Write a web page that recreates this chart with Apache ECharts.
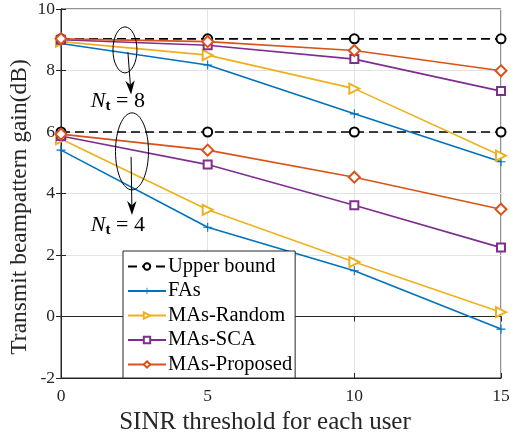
<!DOCTYPE html>
<html>
<head>
<meta charset="utf-8">
<script src="https://cdn.jsdelivr.net/npm/echarts@6/dist/echarts.min.js"></script>
<style>
  html, body { margin: 0; padding: 0; background: #fff; }
  #chart { width: 511px; height: 441px; }
</style>
</head>
<body>
<div id="chart"></div>
<script>
var sinr = [0, 5, 10, 15];

// N_t = 8
var upper8 = [9.03, 9.03, 9.03, 9.03];
var fas8 = [8.88, 8.18, 6.59, 5.03];
var random8 = [8.94, 8.5, 7.41, 5.23];
var sca8 = [9.0, 8.82, 8.37, 7.33];
var proposed8 = [9.03, 8.94, 8.65, 7.99];

// N_t = 4
var upper4 = [6.0, 6.0, 6.0, 6.0];
var fas4 = [5.41, 2.9, 1.49, -0.41];
var random4 = [5.77, 3.47, 1.77, 0.14];
var sca4 = [5.87, 4.94, 3.62, 2.24];
var proposed4 = [5.93, 5.41, 4.53, 3.49];

var names = ['Upper bound', 'FAs', 'MAs-Random', 'MAs-SCA', 'MAs-Proposed'];
var yTitle = 'Transmit beampattern gain(dB)';

var serif = '"Liberation Serif", "Times New Roman", serif';
var axisInk = '#262626';
var blue = '#0072BD', yellow = '#EDB120', purple = '#7E2F8E', orange = '#D95319';
var plus = 'path://M4.4,0h1.2v4.4h4.4v1.2h-4.4v4.4h-1.2v-4.4h-4.4v-1.2h4.4z';

function pts(vals) {
  return sinr.map(function(x, i) { return [x, vals[i]]; });
}

function makeSeries(name, vals, color, symbol, opts) {
  opts = opts || {};
  return {
    name: name,
    type: 'line',
    data: pts(vals),
    symbol: symbol,
    symbolSize: opts.size || 9,
    symbolRotate: opts.rotate || 0,
    showAllSymbol: true,
    z: opts.z || 2,
    lineStyle: { color: color, width: 1.6, type: opts.dash || 'solid' },
    itemStyle: opts.fill
      ? { color: color, borderWidth: 0 }
      : { color: color, borderColor: color, borderWidth: 1.5 },
    emphasis: { disabled: true }
  };
}

var styles = [
  { color: '#000', symbol: 'emptyCircle', opts: { dash: [9, 5], size: 9, z: 1 } },
  { color: blue, symbol: plus, opts: { fill: true, size: 9 } },
  { color: yellow, symbol: 'emptyTriangle', opts: { rotate: -90, size: 10 } },
  { color: purple, symbol: 'emptyRect', opts: { size: 8 } },
  { color: orange, symbol: 'emptyDiamond', opts: { size: 11, z: 3 } }
];
var groups = [
  [upper8, fas8, random8, sca8, proposed8],
  [upper4, fas4, random4, sca4, proposed4]
];

var series = [];
groups.forEach(function(g) {
  g.forEach(function(vals, i) {
    var s = styles[i];
    series.push(makeSeries(names[i], vals, s.color, s.symbol, s.opts));
  });
});

var chart = echarts.init(document.getElementById('chart'), null, { renderer: 'canvas' });

var gridLine = { show: true, lineStyle: { color: '#e3e3e3', width: 1 } };
var tick = { show: true, inside: true, length: 5, lineStyle: { color: axisInk } };

chart.setOption({
  animation: false,
  backgroundColor: '#fff',
  textStyle: { fontFamily: serif },
  grid: {
    left: 61, right: 10, top: 9, bottom: 63,
    outerBoundsMode: 'none', containLabel: false,
    show: true, borderColor: axisInk, borderWidth: 1
  },
  xAxis: [{
    type: 'value',
    min: 0, max: 15, interval: 5,
    name: 'SINR threshold for each user',
    nameLocation: 'middle',
    nameGap: 32,
    nameTextStyle: { fontFamily: serif, fontSize: 25, color: axisInk, padding: [0, 32, 0, 0] },
    axisLine: { show: true, onZero: false, lineStyle: { color: axisInk } },
    axisTick: tick,
    axisLabel: { fontFamily: serif, fontSize: 17.5, color: axisInk, margin: 9 },
    splitLine: gridLine
  }, {
    type: 'value', position: 'top',
    min: 0, max: 15, interval: 5,
    axisLine: { show: true, lineStyle: { color: axisInk } },
    axisTick: tick,
    axisLabel: { show: false },
    splitLine: { show: false }
  }],
  yAxis: [{
    type: 'value',
    min: -2, max: 10, interval: 2,
    axisLine: { show: true, lineStyle: { color: axisInk } },
    axisTick: tick,
    axisLabel: { fontFamily: serif, fontSize: 17.5, color: axisInk, margin: 6 },
    splitLine: gridLine
  }, {
    type: 'value', position: 'right',
    min: -2, max: 10, interval: 2,
    axisLine: { show: true, lineStyle: { color: axisInk } },
    axisTick: tick,
    axisLabel: { show: false },
    splitLine: { show: false }
  }],
  legend: {
    data: names,
    orient: 'vertical',
    left: 123,
    top: 251,
    itemWidth: 38,
    itemHeight: 8,
    itemGap: 3.5,
    padding: [5, 3, 3, 4],
    backgroundColor: '#fff',
    borderColor: axisInk,
    borderWidth: 1,
    textStyle: { fontFamily: serif, fontSize: 20.5, lineHeight: 20.5, color: '#000', padding: [0, 0, 0, -3] }
  },
  series: series
});

// annotations placed in data coordinates
function px(x, y) { return chart.convertToPixel({ gridIndex: 0 }, [x, y]); }

function arrow(from, to) {
  var a = px(from[0], from[1]), b = px(to[0], to[1]);
  var ang = Math.atan2(b[1] - a[1], b[0] - a[0]);
  var L = 14, W = 4.7;
  var bx = b[0] - L * Math.cos(ang), by = b[1] - L * Math.sin(ang);
  var mx = b[0] - 0.7 * L * Math.cos(ang), my = b[1] - 0.7 * L * Math.sin(ang);
  var nx = -Math.sin(ang) * W, ny = Math.cos(ang) * W;
  return [
    { type: 'line', shape: { x1: a[0], y1: a[1], x2: mx, y2: my }, style: { stroke: '#000', lineWidth: 1 }, z: 10 },
    { type: 'polygon', shape: { points: [[b[0], b[1]], [bx + nx, by + ny], [mx, my], [bx - nx, by - ny]] }, style: { fill: '#000' }, z: 10 }
  ];
}

function ellipse(cx, cy, rx, ry) {
  var c = px(cx, cy);
  return { type: 'ellipse', shape: { cx: c[0], cy: c[1], rx: rx, ry: ry }, style: { fill: null, stroke: '#000', lineWidth: 1 }, z: 10 };
}

function label(x, y, n) {
  var c = px(x, y);
  return {
    type: 'text', x: c[0], y: c[1], z: 10,
    style: {
      text: '{n|N}{t|t}{e| = ' + n + '}',
      align: 'center', verticalAlign: 'middle',
      rich: {
        n: { fontFamily: serif, fontStyle: 'italic', fontSize: 22, fill: '#000' },
        t: { fontFamily: serif, fontWeight: 'bold', fontSize: 15, fill: '#000', padding: [9, 0, 0, 0] },
        e: { fontFamily: serif, fontSize: 22, fill: '#000' }
      }
    }
  };
}

var graphics = [];
graphics.push(ellipse(2.18, 8.67, 12, 23));
graphics = graphics.concat(arrow([2.28, 8.6], [2.39, 7.22]));
graphics.push(ellipse(2.42, 5.37, 16.5, 38.5));
graphics = graphics.concat(arrow([2.39, 5.19], [2.42, 3.3]));
graphics.push(label(1.94, 7.0, 8));
graphics.push(label(1.94, 2.97, 4));

// y-axis title, centred a little below the middle of the axis as in the original
graphics.push({
  type: 'text', x: 20, y: 207, rotation: Math.PI / 2, z: 10,
  style: { text: yTitle, fontFamily: serif, fontSize: 23.5, fill: axisInk, align: 'center', verticalAlign: 'middle' }
});

chart.setOption({ graphic: graphics });
</script>
</body>
</html>
